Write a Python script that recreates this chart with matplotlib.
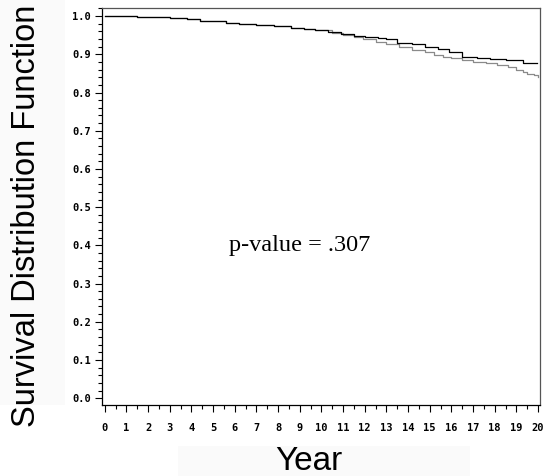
import numpy as np
import matplotlib.pyplot as plt
from matplotlib.ticker import MultipleLocator
from matplotlib.patches import Rectangle

# Kaplan-Meier style step curves
years_a = [0, 1.5, 3.0, 3.8, 4.4, 5.0, 5.6, 6.2, 7.0, 7.8, 8.6, 9.2, 9.7, 10.3,
           10.9, 11.5, 12.0, 12.6, 13.0, 13.5, 14.2, 14.8, 15.4, 15.9, 16.5,
           17.2, 17.8, 18.5, 19.3, 19.95]
surv_a = [1.0, 0.998, 0.996, 0.992, 0.988, 0.986, 0.983, 0.980, 0.977, 0.973,
          0.970, 0.967, 0.963, 0.958, 0.954, 0.949, 0.946, 0.943, 0.940, 0.930,
          0.928, 0.920, 0.914, 0.907, 0.893, 0.890, 0.888, 0.884, 0.877, 0.877]

years_b = [0, 1.5, 3.0, 3.8, 4.4, 5.0, 5.6, 6.2, 7.0, 7.8, 8.6, 9.2, 9.7, 10.5,
           11.0, 11.5, 11.9, 12.5, 13.0, 13.6, 14.2, 14.8, 15.2, 15.6, 16.0,
           16.5, 17.0, 17.6, 18.1, 18.6, 19.0, 19.3, 19.5, 19.8, 20.0]
surv_b = [1.0, 0.998, 0.996, 0.992, 0.988, 0.986, 0.983, 0.980, 0.977, 0.973,
          0.970, 0.967, 0.963, 0.956, 0.950, 0.945, 0.939, 0.932, 0.926, 0.920,
          0.912, 0.905, 0.899, 0.894, 0.890, 0.884, 0.880, 0.877, 0.873, 0.867,
          0.860, 0.855, 0.849, 0.845, 0.840]

p_label = "p-value = .307"

fig = plt.figure(figsize=(5.43, 4.76), dpi=100)

# faint grey panels behind the axis titles (as in the SAS export)
fig.patches.append(Rectangle((0, 1 - 405 / 476), 65 / 543, 405 / 476,
                             transform=fig.transFigure,
                             facecolor='#fafafa', edgecolor='none', zorder=0))
fig.patches.append(Rectangle((178 / 543, 0), 292 / 543, 30 / 476,
                             transform=fig.transFigure,
                             facecolor='#fafafa', edgecolor='none', zorder=0))

ax = fig.add_axes([0.188, 0.149, 0.806, 0.834])

ax.step(years_b, surv_b, where='post', color='#8a8a8a', lw=0.9)
ax.step(years_a, surv_a, where='post', color='black', lw=0.9)

ax.set_xlim(-0.12, 20.08)
ax.set_ylim(-0.018, 1.021)

ax.set_xticks(range(0, 21))
ax.xaxis.set_minor_locator(MultipleLocator(0.5))
ax.set_yticks(np.arange(0, 1.01, 0.1))
ax.yaxis.set_minor_locator(MultipleLocator(0.02))
ax.set_yticklabels([f"{v:.1f}" for v in np.arange(0, 1.01, 0.1)])

ax.tick_params(which='major', direction='out', length=5, width=0.8)
ax.tick_params(which='minor', direction='out', length=3, width=0.8)
ax.tick_params(axis='x', pad=8)
ax.tick_params(axis='y', pad=3)
for lab in ax.get_xticklabels() + ax.get_yticklabels():
    lab.set_family('DejaVu Sans Mono')
    lab.set_fontweight('bold')
    lab.set_fontsize(7.5)

for side in ['top', 'right']:
    ax.spines[side].set_color('#555555')
for sp in ax.spines.values():
    sp.set_linewidth(0.9)

ax.text(9.0, 0.40, p_label, ha='center', va='center',
        family='Liberation Serif', fontsize=17.5)

fig.text(27 / 543, 1 - 216 / 476, "Survival Distribution Function",
         rotation=90, ha='center', va='center', family='Liberation Sans',
         fontsize=23.5)
fig.text(309 / 543, 1 - 462 / 476, "Year", ha='center', va='center',
         family='Liberation Sans', fontsize=24)

plt.savefig('out.png', dpi=100)
